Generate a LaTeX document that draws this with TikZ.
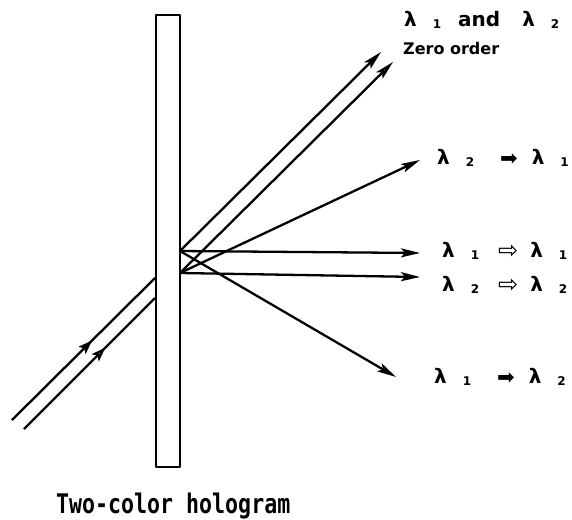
\documentclass[tikz,border=0pt]{standalone}
\usepackage{fontspec}
\setmainfont{DejaVu Sans}
\newfontfamily\titlefont[FakeStretch=0.8]{DejaVu Sans Mono}
\usetikzlibrary{arrows.meta, decorations.markings}
\definecolor{hgink}{HTML}{000000}
\tikzset{
  every picture/.style={line join=round},
  plate/.style={rectangle, draw=hgink, line width=2.4pt, inner sep=0pt,
    minimum width=24pt, minimum height=452pt},
  ray/.style={draw=hgink, line width=2.3pt},
  flow/.style={ray, -{Stealth[length=19pt, width=9pt, inset=4pt]}},
  openflow/.style={ray, -{Stealth[open, fill=white, length=19pt, width=9pt, inset=4pt]}},
  midfull/.style={ray, postaction={decorate}, decoration={markings,
    mark=at position #1 with {\arrow{Stealth[length=14pt, width=10pt, inset=3pt]}}}},
  midopen/.style={ray, postaction={decorate}, decoration={markings,
    mark=at position #1 with {\arrow{Stealth[open, fill=white, length=14pt, width=10pt, inset=3pt]}}}},
  lbl/.style={font=\bfseries\fontsize{20}{20}\selectfont, anchor=base west, inner sep=0pt},
  note/.style={font=\bfseries\fontsize{16}{16}\selectfont, anchor=base west, inner sep=0pt},
  caption/.style={font=\titlefont\bfseries\fontsize{27}{27}\selectfont, anchor=base west, inner sep=0pt},
}
\newcommand{\lam}[1]{λ\hspace{16pt}\raisebox{-2pt}{\fontsize{12}{12}\selectfont #1}}
\newcommand{\fullarr}{\hspace{26pt}\raisebox{-1pt}{\fontsize{21}{21}\selectfont\mdseries ➡}\hspace{14pt}}
\newcommand{\openarr}{\hspace{19pt}\raisebox{-1pt}{\fontsize{24}{24}\selectfont\mdseries ⇨}\hspace{12pt}}
\newcommand{\conv}[3]{\lam{#1}#2\lam{#3}}

\begin{document}
\begin{tikzpicture}[x=1pt, y=-1pt]
\useasboundingbox (0,0) rectangle (572,519);

% ---- hologram plate and where the beams meet it
\node[plate] (holo) at (168,241) {};
\coordinate (enterA) at (155,278);
\coordinate (enterB) at (155,298);
\coordinate (exitA) at (180,251);
\coordinate (exitB) at (180,273);

% ---- incoming beams
\coordinate (srcA) at (12,420);
\coordinate (srcB) at (24,429);
\draw[midfull=0.56] (srcA) -- (enterA);
\draw[midopen=0.62] (srcB) -- (enterB);

% ---- outgoing beams
\coordinate (zeroA) at (381,52);
\coordinate (zeroB) at (393,62);
\coordinate (crossB) at (420,160);
\coordinate (sameA) at (420,253);
\coordinate (sameB) at (420,277);
\coordinate (crossA) at (396,377);
\draw[flow] (exitA) -- (zeroA);
\draw[openflow] (exitB) -- (zeroB);
\draw[flow] (exitB) -- (crossB);
\draw[flow] (exitA) -- (sameA);
\draw[flow] (exitB) -- (sameB);
\draw[flow] (exitA) -- (crossA);

% ---- labels
\node[lbl] (both) at (404,27) {\lam{1}\hspace{17pt}and\hspace{22pt}\lam{2}};
\node[note] (zero) at (403,54) {Zero order};
\node[lbl] (l21) at (437,164) {\conv{2}{\fullarr}{1}};
\node[lbl] (l11) at (442,257) {\conv{1}{\openarr}{1}};
\node[lbl] (l22) at (442,291) {\conv{2}{\openarr}{2}};
\node[lbl] (l12) at (434,383) {\conv{1}{\fullarr}{2}};
\node[caption] (title) at (56,513) {Two-color hologram};

\end{tikzpicture}
\end{document}
